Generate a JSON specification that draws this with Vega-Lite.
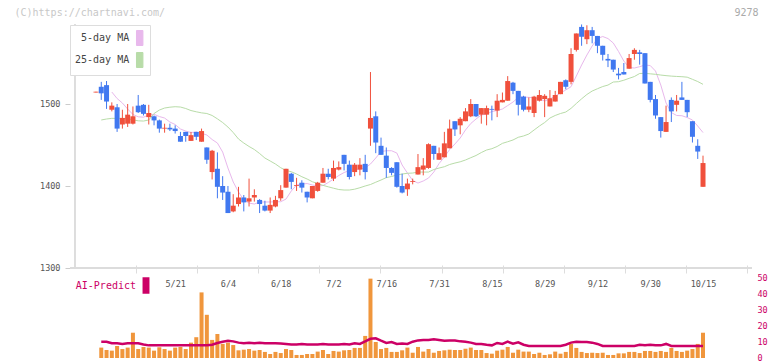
{
"$schema": "https://vega.github.io/schema/vega-lite/v6.json",
"width": 682, "height": 338,
"autosize": "none",
"padding": {"left": 70, "top": 20, "right": 20, "bottom": 3},
"background": "white",
"config": {"view": {"stroke": null}, "font": "DejaVu Sans Mono", "axis": {"labelOverlap": false}},
"datasets": {
"k": [
{"i":1,"o":1514,"h":1515,"l":1514,"c":1515},
{"i":2,"o":1521,"h":1527,"l":1505,"c":1513,"v":6.5,"a":10.2},
{"i":3,"o":1523,"h":1528,"l":1494,"c":1503,"v":5.0,"a":10.2},
{"i":4,"o":1493,"h":1502,"l":1491,"c":1498,"v":4.6,"a":9.2},
{"i":5,"o":1496,"h":1500,"l":1466,"c":1470,"v":7.5,"a":9.2},
{"i":6,"o":1475,"h":1493,"l":1470,"c":1483,"v":5.6,"a":8.8},
{"i":7,"o":1476,"h":1500,"l":1472,"c":1487,"v":6.5,"a":9.2},
{"i":8,"o":1476,"h":1497,"l":1475,"c":1485,"v":15.8,"a":9.2},
{"i":9,"o":1498,"h":1511,"l":1489,"c":1490,"v":5.6,"a":9.2},
{"i":10,"o":1499,"h":1500,"l":1486,"c":1488,"v":6.9,"a":8.5},
{"i":11,"o":1484,"h":1499,"l":1475,"c":1489,"v":6.5,"a":7.9},
{"i":12,"o":1485,"h":1486,"l":1474,"c":1480,"v":4.6,"a":7.9},
{"i":13,"o":1480,"h":1481,"l":1465,"c":1470,"v":6.7,"a":7.9},
{"i":14,"o":1470,"h":1476,"l":1465,"c":1471,"v":5.6,"a":7.9},
{"i":15,"o":1471,"h":1476,"l":1467,"c":1469,"v":4.6,"a":7.9},
{"i":16,"o":1470,"h":1474,"l":1464,"c":1467,"v":6.5,"a":7.9},
{"i":17,"o":1461,"h":1466,"l":1454,"c":1454,"v":6.9,"a":7.9},
{"i":18,"o":1466,"h":1466,"l":1454,"c":1461,"v":5.6,"a":7.9},
{"i":19,"o":1455,"h":1466,"l":1455,"c":1462,"v":9.6,"a":7.9},
{"i":20,"o":1466,"h":1466,"l":1456,"c":1460,"v":13.0,"a":7.9},
{"i":21,"o":1454,"h":1470,"l":1454,"c":1467,"v":41.0,"a":7.9},
{"i":22,"o":1447,"h":1447,"l":1427,"c":1432,"v":27.0,"a":7.9},
{"i":23,"o":1417,"h":1444,"l":1408,"c":1443,"v":11.3,"a":8.3},
{"i":24,"o":1421,"h":1441,"l":1385,"c":1399,"v":15.0,"a":9.4},
{"i":25,"o":1400,"h":1412,"l":1383,"c":1392,"v":8.8,"a":10.2},
{"i":26,"o":1393,"h":1400,"l":1367,"c":1367,"v":9.6,"a":10.8},
{"i":27,"o":1369,"h":1390,"l":1368,"c":1376,"v":8.1,"a":10.4},
{"i":28,"o":1378,"h":1399,"l":1375,"c":1386,"v":4.8,"a":9.6},
{"i":29,"o":1386,"h":1389,"l":1369,"c":1380,"v":5.2,"a":9.2},
{"i":30,"o":1381,"h":1409,"l":1375,"c":1385,"v":5.6,"a":9.6},
{"i":31,"o":1386,"h":1396,"l":1381,"c":1389,"v":4.6,"a":9.2},
{"i":32,"o":1383,"h":1384,"l":1367,"c":1378,"v":5.0,"a":9.6},
{"i":33,"o":1376,"h":1382,"l":1369,"c":1370,"v":3.8,"a":9.2},
{"i":34,"o":1370,"h":1386,"l":1367,"c":1377,"v":2.5,"a":9.2},
{"i":35,"o":1375,"h":1388,"l":1374,"c":1383,"v":3.8,"a":9.2},
{"i":36,"o":1385,"h":1401,"l":1382,"c":1395,"v":3.1,"a":9.0},
{"i":37,"o":1398,"h":1421,"l":1398,"c":1421,"v":5.6,"a":8.8},
{"i":38,"o":1415,"h":1416,"l":1396,"c":1405,"v":5.0,"a":8.5},
{"i":39,"o":1400,"h":1410,"l":1394,"c":1401,"v":1.9,"a":8.5},
{"i":40,"o":1404,"h":1407,"l":1392,"c":1398,"v":1.9,"a":8.8},
{"i":41,"o":1393,"h":1393,"l":1380,"c":1386,"v":2.5,"a":8.5},
{"i":42,"o":1385,"h":1400,"l":1385,"c":1400,"v":2.5,"a":8.5},
{"i":43,"o":1394,"h":1405,"l":1393,"c":1404,"v":4.0,"a":8.5},
{"i":44,"o":1404,"h":1422,"l":1404,"c":1415,"v":5.0,"a":8.8},
{"i":45,"o":1415,"h":1421,"l":1408,"c":1411,"v":2.5,"a":8.5},
{"i":46,"o":1409,"h":1431,"l":1406,"c":1422,"v":4.4,"a":8.5},
{"i":47,"o":1420,"h":1430,"l":1419,"c":1423,"v":4.0,"a":8.5},
{"i":48,"o":1438,"h":1438,"l":1419,"c":1427,"v":4.8,"a":8.8},
{"i":49,"o":1426,"h":1431,"l":1408,"c":1411,"v":5.0,"a":8.5},
{"i":50,"o":1417,"h":1428,"l":1412,"c":1426,"v":6.3,"a":9.2},
{"i":51,"o":1420,"h":1434,"l":1413,"c":1426,"v":6.3,"a":8.8},
{"i":52,"o":1427,"h":1438,"l":1408,"c":1417,"v":13.8,"a":10.4},
{"i":53,"o":1470,"h":1539,"l":1449,"c":1483,"v":49.6,"a":12.0},
{"i":54,"o":1485,"h":1491,"l":1440,"c":1453,"v":10.0,"a":12.3},
{"i":55,"o":1449,"h":1459,"l":1438,"c":1438,"v":5.6,"a":10.8},
{"i":56,"o":1437,"h":1447,"l":1410,"c":1422,"v":6.3,"a":9.4},
{"i":57,"o":1422,"h":1423,"l":1413,"c":1416,"v":3.8,"a":10.0},
{"i":58,"o":1429,"h":1429,"l":1398,"c":1399,"v":3.8,"a":8.8},
{"i":59,"o":1400,"h":1415,"l":1391,"c":1392,"v":4.8,"a":9.0},
{"i":60,"o":1396,"h":1409,"l":1388,"c":1403,"v":6.5,"a":8.8},
{"i":61,"o":1405,"h":1409,"l":1402,"c":1406,"v":3.3,"a":10.2},
{"i":62,"o":1414,"h":1439,"l":1414,"c":1423,"v":6.9,"a":11.0},
{"i":63,"o":1420,"h":1434,"l":1413,"c":1425,"v":4.0,"a":11.3},
{"i":64,"o":1422,"h":1452,"l":1421,"c":1451,"v":5.6,"a":11.3},
{"i":65,"o":1449,"h":1449,"l":1432,"c":1439,"v":3.3,"a":11.7},
{"i":66,"o":1432,"h":1447,"l":1432,"c":1440,"v":4.4,"a":11.3},
{"i":67,"o":1435,"h":1466,"l":1435,"c":1452,"v":4.8,"a":10.8},
{"i":68,"o":1446,"h":1481,"l":1446,"c":1470,"v":5.2,"a":11.0},
{"i":69,"o":1479,"h":1479,"l":1461,"c":1469,"v":5.0,"a":11.0},
{"i":70,"o":1474,"h":1484,"l":1463,"c":1482,"v":5.0,"a":10.4},
{"i":71,"o":1479,"h":1495,"l":1479,"c":1491,"v":5.8,"a":10.2},
{"i":72,"o":1485,"h":1506,"l":1484,"c":1500,"v":6.5,"a":9.6},
{"i":73,"o":1500,"h":1500,"l":1484,"c":1485,"v":5.0,"a":8.8},
{"i":74,"o":1487,"h":1495,"l":1476,"c":1495,"v":5.0,"a":8.8},
{"i":75,"o":1487,"h":1498,"l":1474,"c":1495,"v":3.1,"a":8.3},
{"i":76,"o":1494,"h":1498,"l":1480,"c":1493,"v":2.7,"a":7.9},
{"i":77,"o":1492,"h":1512,"l":1484,"c":1504,"v":4.6,"a":9.4},
{"i":78,"o":1502,"h":1514,"l":1502,"c":1505,"v":5.2,"a":8.8},
{"i":79,"o":1504,"h":1534,"l":1504,"c":1528,"v":6.9,"a":10.2},
{"i":80,"o":1526,"h":1527,"l":1512,"c":1516,"v":3.3,"a":8.9},
{"i":81,"o":1516,"h":1516,"l":1486,"c":1499,"v":5.2,"a":9.8},
{"i":82,"o":1509,"h":1510,"l":1491,"c":1493,"v":4.0,"a":8.3},
{"i":83,"o":1493,"h":1508,"l":1490,"c":1497,"v":4.0,"a":7.5},
{"i":84,"o":1489,"h":1510,"l":1484,"c":1509,"v":2.5,"a":7.5},
{"i":85,"o":1504,"h":1517,"l":1503,"c":1511,"v":3.3,"a":7.5},
{"i":86,"o":1506,"h":1512,"l":1484,"c":1510,"v":1.9,"a":7.5},
{"i":87,"o":1497,"h":1517,"l":1497,"c":1507,"v":2.3,"a":7.5},
{"i":88,"o":1503,"h":1516,"l":1503,"c":1511,"v":4.0,"a":7.5},
{"i":89,"o":1512,"h":1527,"l":1512,"c":1527,"v":2.7,"a":7.5},
{"i":90,"o":1529,"h":1530,"l":1518,"c":1521,"v":3.8,"a":8.3},
{"i":91,"o":1527,"h":1568,"l":1524,"c":1561,"v":8.8,"a":9.6},
{"i":92,"o":1566,"h":1586,"l":1564,"c":1586,"v":6.3,"a":10.2},
{"i":93,"o":1594,"h":1597,"l":1571,"c":1582,"v":3.8,"a":10.0},
{"i":94,"o":1579,"h":1596,"l":1573,"c":1590,"v":3.1,"a":10.0},
{"i":95,"o":1590,"h":1594,"l":1574,"c":1583,"v":3.3,"a":9.6},
{"i":96,"o":1583,"h":1583,"l":1562,"c":1571,"v":3.1,"a":8.8},
{"i":97,"o":1571,"h":1571,"l":1553,"c":1560,"v":3.3,"a":7.5},
{"i":98,"o":1555,"h":1561,"l":1545,"c":1553,"v":1.9,"a":7.5},
{"i":99,"o":1554,"h":1554,"l":1539,"c":1542,"v":1.9,"a":7.5},
{"i":100,"o":1537,"h":1544,"l":1530,"c":1535,"v":2.9,"a":7.5},
{"i":101,"o":1539,"h":1550,"l":1536,"c":1536,"v":2.9,"a":7.5},
{"i":102,"o":1543,"h":1561,"l":1543,"c":1556,"v":3.8,"a":7.5},
{"i":103,"o":1561,"h":1568,"l":1554,"c":1566,"v":3.8,"a":7.5},
{"i":104,"o":1563,"h":1566,"l":1548,"c":1561,"v":3.1,"a":8.3},
{"i":105,"o":1562,"h":1562,"l":1525,"c":1525,"v":4.4,"a":7.9},
{"i":106,"o":1527,"h":1527,"l":1502,"c":1505,"v":4.4,"a":8.3},
{"i":107,"o":1506,"h":1511,"l":1482,"c":1486,"v":3.8,"a":7.9},
{"i":108,"o":1484,"h":1484,"l":1459,"c":1467,"v":4.4,"a":7.9},
{"i":109,"o":1466,"h":1498,"l":1466,"c":1478,"v":3.8,"a":8.8},
{"i":110,"o":1505,"h":1508,"l":1478,"c":1491,"v":6.3,"a":7.5},
{"i":111,"o":1499,"h":1511,"l":1491,"c":1504,"v":4.4,"a":7.5},
{"i":112,"o":1508,"h":1527,"l":1505,"c":1505,"v":3.8,"a":7.5},
{"i":113,"o":1505,"h":1505,"l":1484,"c":1490,"v":4.6,"a":7.5},
{"i":114,"o":1479,"h":1479,"l":1453,"c":1460,"v":5.6,"a":7.5},
{"i":115,"o":1449,"h":1457,"l":1433,"c":1442,"v":8.8,"a":7.5},
{"i":116,"o":1399,"h":1437,"l":1399,"c":1428,"v":15.8,"a":7.5}
],
"m": [
{"i":4,"s":"5-day MA","v":1514.6},{"i":5,"s":"5-day MA","v":1506.7},{"i":6,"s":"5-day MA","v":1501.2},{"i":7,"s":"5-day MA","v":1493.9},{"i":8,"s":"5-day MA","v":1487.2},{"i":9,"s":"5-day MA","v":1484.4},{"i":10,"s":"5-day MA","v":1483.9},{"i":11,"s":"5-day MA","v":1486.6},{"i":12,"s":"5-day MA","v":1487.4},{"i":13,"s":"5-day MA","v":1484.7},{"i":14,"s":"5-day MA","v":1482.9},{"i":15,"s":"5-day MA","v":1478.0},{"i":16,"s":"5-day MA","v":1475.0},{"i":17,"s":"5-day MA","v":1469.5},{"i":18,"s":"5-day MA","v":1467.0},{"i":19,"s":"5-day MA","v":1465.2},{"i":20,"s":"5-day MA","v":1465.8},{"i":21,"s":"5-day MA","v":1464.2},{"i":22,"s":"5-day MA","v":1462.2},{"i":23,"s":"5-day MA","v":1456.7},{"i":24,"s":"5-day MA","v":1452.4},{"i":25,"s":"5-day MA","v":1441.4},{"i":26,"s":"5-day MA","v":1421.9},{"i":27,"s":"5-day MA","v":1404.9},{"i":28,"s":"5-day MA","v":1392.7},{"i":29,"s":"5-day MA","v":1382.9},{"i":30,"s":"5-day MA","v":1379.2},{"i":31,"s":"5-day MA","v":1378.0},{"i":32,"s":"5-day MA","v":1380.5},{"i":33,"s":"5-day MA","v":1380.5},{"i":34,"s":"5-day MA","v":1380.5},{"i":35,"s":"5-day MA","v":1380.8},{"i":36,"s":"5-day MA","v":1380.8},{"i":37,"s":"5-day MA","v":1384.1},{"i":38,"s":"5-day MA","v":1393.9},{"i":39,"s":"5-day MA","v":1401.2},{"i":40,"s":"5-day MA","v":1402.4},{"i":41,"s":"5-day MA","v":1403.0},{"i":42,"s":"5-day MA","v":1401.2},{"i":43,"s":"5-day MA","v":1400.0},{"i":44,"s":"5-day MA","v":1400.6},{"i":45,"s":"5-day MA","v":1404.2},{"i":46,"s":"5-day MA","v":1408.5},{"i":47,"s":"5-day MA","v":1412.8},{"i":48,"s":"5-day MA","v":1416.4},{"i":49,"s":"5-day MA","v":1418.9},{"i":50,"s":"5-day MA","v":1419.9},{"i":51,"s":"5-day MA","v":1420.7},{"i":52,"s":"5-day MA","v":1421.9},{"i":53,"s":"5-day MA","v":1426.8},{"i":54,"s":"5-day MA","v":1434.1},{"i":55,"s":"5-day MA","v":1442.0},{"i":56,"s":"5-day MA","v":1443.0},{"i":57,"s":"5-day MA","v":1443.0},{"i":58,"s":"5-day MA","v":1440.2},{"i":59,"s":"5-day MA","v":1425.6},{"i":60,"s":"5-day MA","v":1415.8},{"i":61,"s":"5-day MA","v":1406.7},{"i":62,"s":"5-day MA","v":1403.6},{"i":63,"s":"5-day MA","v":1406.1},{"i":64,"s":"5-day MA","v":1409.7},{"i":65,"s":"5-day MA","v":1417.0},{"i":66,"s":"5-day MA","v":1427.4},{"i":67,"s":"5-day MA","v":1435.3},{"i":68,"s":"5-day MA","v":1444.5},{"i":69,"s":"5-day MA","v":1451.2},{"i":70,"s":"5-day MA","v":1458.5},{"i":71,"s":"5-day MA","v":1468.3},{"i":72,"s":"5-day MA","v":1476.2},{"i":73,"s":"5-day MA","v":1481.7},{"i":74,"s":"5-day MA","v":1486.6},{"i":75,"s":"5-day MA","v":1487.8},{"i":76,"s":"5-day MA","v":1490.8},{"i":77,"s":"5-day MA","v":1492.0},{"i":78,"s":"5-day MA","v":1493.9},{"i":79,"s":"5-day MA","v":1498.1},{"i":80,"s":"5-day MA","v":1502.4},{"i":81,"s":"5-day MA","v":1507.9},{"i":82,"s":"5-day MA","v":1508.5},{"i":83,"s":"5-day MA","v":1508.1},{"i":84,"s":"5-day MA","v":1507.5},{"i":85,"s":"5-day MA","v":1506.1},{"i":86,"s":"5-day MA","v":1503.6},{"i":87,"s":"5-day MA","v":1506.1},{"i":88,"s":"5-day MA","v":1509.7},{"i":89,"s":"5-day MA","v":1513.4},{"i":90,"s":"5-day MA","v":1517.1},{"i":91,"s":"5-day MA","v":1521.1},{"i":92,"s":"5-day MA","v":1534.1},{"i":93,"s":"5-day MA","v":1547.5},{"i":94,"s":"5-day MA","v":1559.7},{"i":95,"s":"5-day MA","v":1570.7},{"i":96,"s":"5-day MA","v":1579.8},{"i":97,"s":"5-day MA","v":1582.3},{"i":98,"s":"5-day MA","v":1579.8},{"i":99,"s":"5-day MA","v":1574.4},{"i":100,"s":"5-day MA","v":1564.0},{"i":101,"s":"5-day MA","v":1552.4},{"i":102,"s":"5-day MA","v":1544.5},{"i":103,"s":"5-day MA","v":1543.9},{"i":104,"s":"5-day MA","v":1545.5},{"i":105,"s":"5-day MA","v":1547.5},{"i":106,"s":"5-day MA","v":1546.9},{"i":107,"s":"5-day MA","v":1540.2},{"i":108,"s":"5-day MA","v":1523.1},{"i":109,"s":"5-day MA","v":1501.2},{"i":110,"s":"5-day MA","v":1489.6},{"i":111,"s":"5-day MA","v":1486.0},{"i":112,"s":"5-day MA","v":1485.7},{"i":113,"s":"5-day MA","v":1483.5},{"i":114,"s":"5-day MA","v":1480.5},{"i":115,"s":"5-day MA","v":1473.1},{"i":116,"s":"5-day MA","v":1465.2},
{"i":2,"s":"25-day MA","v":1480.5},{"i":3,"s":"25-day MA","v":1481.7},{"i":4,"s":"25-day MA","v":1482.5},{"i":5,"s":"25-day MA","v":1482.5},{"i":6,"s":"25-day MA","v":1482.5},{"i":7,"s":"25-day MA","v":1481.9},{"i":8,"s":"25-day MA","v":1480.7},{"i":9,"s":"25-day MA","v":1479.5},{"i":10,"s":"25-day MA","v":1479.2},{"i":11,"s":"25-day MA","v":1480.5},{"i":12,"s":"25-day MA","v":1488.4},{"i":13,"s":"25-day MA","v":1492.6},{"i":14,"s":"25-day MA","v":1495.1},{"i":15,"s":"25-day MA","v":1496.1},{"i":16,"s":"25-day MA","v":1496.7},{"i":17,"s":"25-day MA","v":1496.3},{"i":18,"s":"25-day MA","v":1494.5},{"i":19,"s":"25-day MA","v":1492.0},{"i":20,"s":"25-day MA","v":1490.5},{"i":21,"s":"25-day MA","v":1489.2},{"i":22,"s":"25-day MA","v":1488.4},{"i":23,"s":"25-day MA","v":1486.0},{"i":24,"s":"25-day MA","v":1481.9},{"i":25,"s":"25-day MA","v":1477.4},{"i":26,"s":"25-day MA","v":1471.9},{"i":27,"s":"25-day MA","v":1465.2},{"i":28,"s":"25-day MA","v":1457.3},{"i":29,"s":"25-day MA","v":1452.4},{"i":30,"s":"25-day MA","v":1448.2},{"i":31,"s":"25-day MA","v":1444.5},{"i":32,"s":"25-day MA","v":1439.6},{"i":33,"s":"25-day MA","v":1434.1},{"i":34,"s":"25-day MA","v":1430.5},{"i":35,"s":"25-day MA","v":1426.8},{"i":36,"s":"25-day MA","v":1422.3},{"i":37,"s":"25-day MA","v":1418.9},{"i":38,"s":"25-day MA","v":1417.4},{"i":39,"s":"25-day MA","v":1414.6},{"i":40,"s":"25-day MA","v":1411.3},{"i":41,"s":"25-day MA","v":1408.5},{"i":42,"s":"25-day MA","v":1405.2},{"i":43,"s":"25-day MA","v":1403.0},{"i":44,"s":"25-day MA","v":1400.8},{"i":45,"s":"25-day MA","v":1399.0},{"i":46,"s":"25-day MA","v":1397.3},{"i":47,"s":"25-day MA","v":1395.7},{"i":48,"s":"25-day MA","v":1395.1},{"i":49,"s":"25-day MA","v":1395.1},{"i":50,"s":"25-day MA","v":1396.1},{"i":51,"s":"25-day MA","v":1397.9},{"i":52,"s":"25-day MA","v":1400.0},{"i":53,"s":"25-day MA","v":1401.8},{"i":54,"s":"25-day MA","v":1404.6},{"i":55,"s":"25-day MA","v":1407.3},{"i":56,"s":"25-day MA","v":1410.2},{"i":57,"s":"25-day MA","v":1411.6},{"i":58,"s":"25-day MA","v":1413.4},{"i":59,"s":"25-day MA","v":1414.6},{"i":60,"s":"25-day MA","v":1415.5},{"i":61,"s":"25-day MA","v":1415.8},{"i":62,"s":"25-day MA","v":1417.0},{"i":63,"s":"25-day MA","v":1417.0},{"i":64,"s":"25-day MA","v":1417.0},{"i":65,"s":"25-day MA","v":1420.1},{"i":66,"s":"25-day MA","v":1421.9},{"i":67,"s":"25-day MA","v":1423.5},{"i":68,"s":"25-day MA","v":1426.2},{"i":69,"s":"25-day MA","v":1428.0},{"i":70,"s":"25-day MA","v":1429.5},{"i":71,"s":"25-day MA","v":1431.7},{"i":72,"s":"25-day MA","v":1434.5},{"i":73,"s":"25-day MA","v":1437.2},{"i":74,"s":"25-day MA","v":1440.8},{"i":75,"s":"25-day MA","v":1443.9},{"i":76,"s":"25-day MA","v":1445.5},{"i":77,"s":"25-day MA","v":1448.2},{"i":78,"s":"25-day MA","v":1452.0},{"i":79,"s":"25-day MA","v":1454.0},{"i":80,"s":"25-day MA","v":1456.1},{"i":81,"s":"25-day MA","v":1459.4},{"i":82,"s":"25-day MA","v":1461.0},{"i":83,"s":"25-day MA","v":1463.4},{"i":84,"s":"25-day MA","v":1468.3},{"i":85,"s":"25-day MA","v":1473.1},{"i":86,"s":"25-day MA","v":1477.4},{"i":87,"s":"25-day MA","v":1482.9},{"i":88,"s":"25-day MA","v":1486.0},{"i":89,"s":"25-day MA","v":1488.4},{"i":90,"s":"25-day MA","v":1490.2},{"i":91,"s":"25-day MA","v":1494.7},{"i":92,"s":"25-day MA","v":1500.6},{"i":93,"s":"25-day MA","v":1506.3},{"i":94,"s":"25-day MA","v":1511.6},{"i":95,"s":"25-day MA","v":1515.8},{"i":96,"s":"25-day MA","v":1518.6},{"i":97,"s":"25-day MA","v":1521.3},{"i":98,"s":"25-day MA","v":1523.1},{"i":99,"s":"25-day MA","v":1526.8},{"i":100,"s":"25-day MA","v":1527.2},{"i":101,"s":"25-day MA","v":1529.0},{"i":102,"s":"25-day MA","v":1531.3},{"i":103,"s":"25-day MA","v":1533.5},{"i":104,"s":"25-day MA","v":1537.2},{"i":105,"s":"25-day MA","v":1537.4},{"i":106,"s":"25-day MA","v":1536.8},{"i":107,"s":"25-day MA","v":1536.2},{"i":108,"s":"25-day MA","v":1535.3},{"i":109,"s":"25-day MA","v":1534.6},{"i":110,"s":"25-day MA","v":1534.0},{"i":111,"s":"25-day MA","v":1533.6},{"i":112,"s":"25-day MA","v":1533.3},{"i":113,"s":"25-day MA","v":1532.7},{"i":114,"s":"25-day MA","v":1530.1},{"i":115,"s":"25-day MA","v":1527.4},{"i":116,"s":"25-day MA","v":1524.0}
]
},
"layer": [
{
"layer": [
{"data": {"name": "k"}, "mark": {"type": "rule", "color": "#dddddd", "strokeWidth": 1},
 "encoding": {"y": {"datum": 1300, "type": "quantitative", "scale": {"domain": [1190.24, 1602.44], "nice": false, "zero": false},
   "axis": {"values": [1300, 1400, 1500], "format": "d", "domain": false, "grid": false, "tickSize": 5, "tickColor": "#cccccc", "labelFont": "DejaVu Sans Mono", "labelFontSize": 8.5, "labelColor": "#555555", "labelPadding": 5,
     "title": "(C)https://chartnavi.com/", "titleAngle": 0, "titleX": -56, "titleY": -8, "titleAlign": "left", "titleBaseline": "middle", "titleColor": "#c8c8c8", "titleFont": "DejaVu Sans Mono", "titleFontSize": 10, "titleFontWeight": "normal"}}}},
{"data": {"name": "k"}, "mark": {"type": "rule", "color": "#dddddd", "strokeWidth": 1},
 "encoding": {"x": {"datum": -2.976, "type": "quantitative"}, "y": {"datum": 1300, "type": "quantitative"}, "y2": {"datum": 1597}}},
{"data": {"name": "m"}, "mark": {"type": "line", "strokeWidth": 1},
 "encoding": {"x": {"field": "i", "type": "quantitative"}, "y": {"field": "v", "type": "quantitative"},
   "stroke": {"field": "s", "type": "nominal", "scale": {"domain": ["5-day MA", "25-day MA"], "range": ["#e8b8ec", "#b8dca8"]},
     "legend": {"orient": "none", "legendX": 0, "legendY": 5, "title": null, "padding": 5, "strokeColor": "#dddddd", "fillColor": "#ffffff", "cornerRadius": 0,
       "symbolType": "M-0.43,-1L0.43,-1L0.43,1L-0.43,1Z", "symbolSize": 225, "symbolStrokeWidth": 1, "symbolOffset": 56.7, "labelOffset": -18.5, "labelAlign": "right", "rowPadding": 2,
       "labelFont": "DejaVu Sans Mono", "labelFontSize": 10, "labelColor": "#444444",
       "encode": {"symbols": {"update": {"fill": {"scale": "stroke", "field": "value"}, "stroke": {"value": "#666666"}, "strokeWidth": {"value": 1}, "opacity": {"value": 1}}}}}}}},
{"data": {"name": "k"}, "mark": {"type": "rule", "strokeWidth": 1},
 "encoding": {"x": {"field": "i", "type": "quantitative", "scale": {"domain": [-2.976, 124.334], "nice": false, "zero": false},
   "axis": {"orient": "bottom", "offset": -90, "values": [16, 26, 36, 46, 56, 66, 76, 86, 96, 106, 116],
     "labelExpr": "['5/21','6/4','6/18','7/2','7/16','7/31','8/15','8/29','9/12','9/30','10/15'][round((datum.value - 16) / 10)]",
     "domain": false, "ticks": false, "grid": false, "labelPadding": 11,
     "labelFont": "DejaVu Sans Mono", "labelFontSize": 8.5, "labelColor": "#555555", "labelOverlap": false, "labelFlush": false, "labelBound": false, "title": null}},
   "y": {"field": "l", "type": "quantitative"}, "y2": {"field": "h"},
   "color": {"condition": {"test": "datum.c >= datum.o", "value": "#f0503c"}, "value": "#4078f0"}}},
{"data": {"name": "k"}, "mark": {"type": "bar", "size": 5},
 "encoding": {"x": {"field": "i", "type": "quantitative"}, "y": {"field": "o", "type": "quantitative"}, "y2": {"field": "c"},
   "color": {"condition": {"test": "datum.c >= datum.o", "value": "#f0503c"}, "value": "#4078f0"}}}
]
},
{
"layer": [
{"data": {"name": "k"}, "mark": {"type": "bar", "size": 4, "color": "#f0963c"},
 "encoding": {"x": {"field": "i", "type": "quantitative", "scale": {"domain": [-2.976, 124.334], "nice": false, "zero": false},
   "axis": {"orient": "bottom", "offset": -93, "values": [8.598, 20.171, 31.745, 43.319, 54.892, 66.466, 78.04, 89.613, 101.187, 112.76, 124.334], "labels": false, "domain": false, "grid": false, "tickSize": 8, "tickColor": "#dddddd", "title": null}},
   "y": {"field": "v", "type": "quantitative", "scale": {"domain": [0, 211.25], "nice": false, "zero": true},
     "axis": {"orient": "right", "values": [0, 10, 20, 30, 40, 50], "domain": false, "ticks": false, "grid": false, "labelColor": "#cc0066", "labelFont": "DejaVu Sans Mono", "labelFontSize": 8.5, "labelPadding": 5, "labelOffset": -1,
       "title": "9278", "titleAngle": 0, "titleX": -6, "titleY": -8, "titleAlign": "center", "titleBaseline": "middle", "titleColor": "#aaaaaa", "titleFont": "DejaVu Sans Mono", "titleFontSize": 10, "titleFontWeight": "normal"}}}},
{"data": {"name": "k"}, "mark": {"type": "line", "strokeWidth": 2.5},
 "encoding": {"x": {"field": "i", "type": "quantitative"}, "y": {"field": "a", "type": "quantitative"},
   "color": {"datum": "AI-Predict", "scale": {"range": ["#cc0066"]},
     "legend": {"orient": "none", "legendX": -1, "legendY": 257, "title": null, "padding": 0,
       "symbolType": "M-0.42,-1L0.42,-1L0.42,1L-0.42,1Z", "symbolSize": 272, "symbolStrokeWidth": 0, "symbolOffset": 68.5, "labelOffset": -18.5, "labelAlign": "right",
       "labelFont": "DejaVu Sans Mono", "labelFontSize": 10, "labelColor": "#cc0066",
       "encode": {"symbols": {"update": {"fill": {"value": "#cc0066"}, "stroke": {"value": "#cc0066"}, "opacity": {"value": 1}}}}}}}}
]
}
],
"resolve": {"scale": {"y": "independent", "x": "independent"}}
}
